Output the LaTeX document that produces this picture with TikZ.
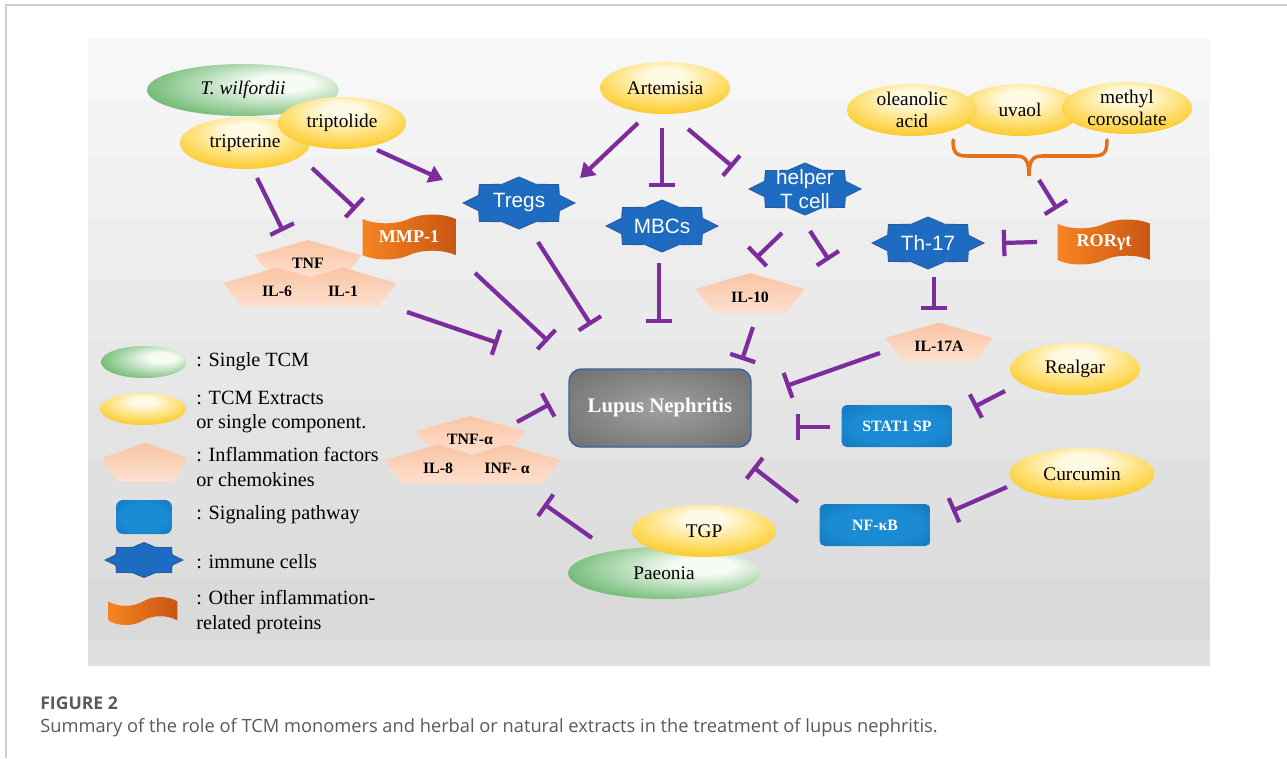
\documentclass[tikz,border=0pt]{standalone}
\usepackage{fontspec}
\setmainfont{Liberation Serif}
\setsansfont{Liberation Sans}
\newfontfamily\capfont{Open Sans}
\usetikzlibrary{shapes.geometric, shapes.symbols, arrows.meta}

\definecolor{inhib}{RGB}{124,44,156}
\definecolor{goldout}{RGB}{247,188,0}
\definecolor{goldmid}{RGB}{255,222,110}
\definecolor{goldin}{RGB}{255,250,228}
\definecolor{greenout}{RGB}{58,160,64}
\definecolor{greenin}{RGB}{246,251,244}
\definecolor{cellblue}{RGB}{30,108,194}
\definecolor{cellline}{RGB}{40,90,160}
\definecolor{sigin}{RGB}{27,140,212}
\definecolor{sigout}{RGB}{12,98,165}
\definecolor{peachtop}{RGB}{249,196,164}
\definecolor{peachbot}{RGB}{253,224,206}
\definecolor{tapeleft}{RGB}{246,132,34}
\definecolor{taperight}{RGB}{200,86,18}
\definecolor{lnin}{RGB}{160,160,160}
\definecolor{lnout}{RGB}{98,98,98}
\definecolor{lnline}{RGB}{60,96,160}
\definecolor{bracecol}{RGB}{232,112,26}
\definecolor{capgray}{RGB}{90,90,90}
\definecolor{framegray}{RGB}{205,205,205}

\pgfdeclareradialshading{goldglow}{\pgfpoint{0bp}{14bp}}{color(0bp)=(goldin); color(7bp)=(goldin); color(22bp)=(goldmid); color(38bp)=(goldout); color(60bp)=(goldout)}
\pgfdeclareradialshading{greenglow}{\pgfpoint{12bp}{8bp}}{color(0bp)=(greenin); color(8bp)=(greenin); color(42bp)=(greenout); color(60bp)=(greenout)}
\pgfdeclareradialshading{sigglow}{\pgfpoint{0bp}{0bp}}{color(0bp)=(sigin); color(20bp)=(sigin); color(50bp)=(sigout)}
\pgfdeclareradialshading{lnglow}{\pgfpoint{0bp}{0bp}}{color(0bp)=(lnin); color(45bp)=(lnout); color(60bp)=(lnout)}

% shapes drawn behind the labels: centre, half width, half height (px)
\newcommand{\immunestar}[3]{%
  \fill[cellblue, draw=cellline, line width=0.5pt, shift={#1}]
    (#2,0) \foreach \a in {1,...,15}{ -- ({#2*(1-0.22*mod(\a,2))*cos(\a*22.5)}, {#3*(1-0.22*mod(\a,2))*sin(\a*22.5)}) } -- cycle;}
\newcommand{\factorshape}[3]{%
  \shade[top color=peachtop, bottom color=peachbot, shift={#1}]
    (0,-#3) -- (#2,{-0.2*#3}) -- ({0.66*#2},#3) -- ({-0.66*#2},#3) -- (-#2,{-0.2*#3}) -- cycle;}

\tikzset{
  gold/.style={ellipse, minimum width=#1, minimum height=1.04cm, inner sep=0pt,
    shade, shading=goldglow, align=center, font=\fontsize{11}{12.5}\selectfont},
  gold/.default=2.6cm,
  herb/.style={ellipse, minimum width=#1, minimum height=1.04cm, inner sep=0pt,
    shade, shading=greenglow, align=center, font=\fontsize{11}{12.5}\selectfont},
  herb/.default=3.84cm,
  cell/.style={inner sep=0pt, text=white, align=center,
    font=\sffamily\fontsize{11.8}{14}\selectfont},
  factor/.style={inner sep=0pt, font=\bfseries\fontsize{9}{10}\selectfont},
  sig/.style={rounded corners=3pt, minimum width=2.22cm, minimum height=0.84cm,
    shade, shading=sigglow, text=white, font=\bfseries\fontsize{9}{10}\selectfont},
  prot/.style={tape, minimum width=1.86cm, minimum height=0.9cm, inner sep=0pt,
    left color=tapeleft, right color=taperight, text=white,
    font=\bfseries\fontsize{10.3}{12}\selectfont},
  lupusbox/.style={rounded corners=7pt, minimum width=3.64cm, minimum height=1.56cm,
    shade, shading=lnglow, draw=lnline, line width=0.8pt, text=white,
    font=\bfseries\fontsize{11.8}{13}\selectfont},
  legend/.style={anchor=west, align=left, inner sep=0pt,
    font=\fontsize{11.5}{14.2}\selectfont},
  inhibit/.style={draw=inhib, line width=2.4pt, -{Bar[width=15pt]}},
  activate/.style={draw=inhib, line width=2.4pt, -{Triangle[length=8pt, width=10pt]}},
}

\begin{document}
\begin{tikzpicture}[x=0.02cm, y=-0.02cm]
  \useasboundingbox (0,0) rectangle (1287,758);
  \fill[white] (0,0) rectangle (1287,758);
  \draw[framegray, line width=1pt] (6,758) -- (6,5) -- (1287,5);

  % panel
  \foreach \i [evaluate=\i as \tone using 3+1.3*\i] in {0,...,9}
    \fill[black!\tone] (88,{38+\i*60.2}) rectangle (1210,{38+(\i+1)*60.2});
  \fill[black!12] (88,640) rectangle (1210,666);

  % herbs and extracts
  \node[herb] (wilfordii) at (243,90) {\textit{T. wilfordii}};
  \node[gold=2.6cm] (tripterine) at (245,143) {tripterine};
  \node[gold=2.56cm] (triptolide) at (342,123) {triptolide};
  \node[gold] (artemisia) at (665,88) {Artemisia};
  \node[gold=2.44cm] (uvaol) at (1020,110) {uvaol};
  \node[gold] (oleanolic) at (912,110) {oleanolic\\acid};
  \node[gold] (methyl) at (1127,108) {methyl\\corosolate};
  \node[gold] (realgar) at (1075,369) {Realgar};
  \node[gold=2.9cm] (curcumin) at (1082,474) {Curcumin};
  \node[herb] (paeonia) at (664,573) {Paeonia};
  \node[gold=2.88cm] (tgp) at (704,531) {TGP};

  % immune cells
  \immunestar{(519,203)}{56}{26}
  \immunestar{(662,226)}{56}{26}
  \immunestar{(805,189)}{56}{26}
  \immunestar{(928,243)}{56}{26}
  \node[cell] (tregs) at (519,203) {Tregs};
  \node[cell] (mbcs) at (662,226) {MBCs};
  \node[cell] (helper) at (805,189) {helper\\T cell};
  \node[cell] (th17) at (928,243) {Th-17};

  % proteins
  \node[prot] (mmp) at (409,237) {MMP-1};
  \node[prot] (ror) at (1104,242) {RORγt};

  % inflammation factors
  \factorshape{(308,259)}{53.5}{19}
  \factorshape{(277,287)}{53.5}{19.5}
  \factorshape{(343,287)}{53.5}{19.5}
  \factorshape{(750,293)}{54.5}{20}
  \factorshape{(939,342)}{54}{19.5}
  \factorshape{(470,435)}{55}{19}
  \factorshape{(438,464)}{53.5}{19.5}
  \factorshape{(507,464)}{53.5}{19.5}
  \node[factor] (tnf) at (308,263) {TNF};
  \node[factor] (il6) at (277,291) {IL-6};
  \node[factor] (il1) at (343,291) {IL-1};
  \node[factor] (il10) at (750,297) {IL-10};
  \node[factor] (il17a) at (939,346) {IL-17A};
  \node[factor] (tnfa) at (470,439) {TNF-α};
  \node[factor] (il8) at (438,468) {IL-8};
  \node[factor] (infa) at (507,468) {INF- α};

  % pathways and disease
  \node[sig] (stat1) at (897,426) {STAT1 SP};
  \node[sig] (nfkb) at (875,525) {NF-κB};
  \node[lupusbox] (lupus) at (660,408) {Lupus Nephritis};

  % brace over the three triterpenes
  \coordinate (brace) at (1029,176);
  \draw[bracecol, line width=2pt, line cap=round] (953,140) .. controls (953,153) and (956,156) .. (968,156) -- (1016,156) .. controls (1025,156) and (1029,160) .. (brace) .. controls (1029,160) and (1033,156) .. (1042,156) -- (1092,156) .. controls (1104,156) and (1107,153) .. (1107,140);

  % connectors
  \draw[activate] ([shift={(35,27)}]triptolide.center) -- ([shift={(-76,-23)}]tregs.center);
  \draw[inhibit] ([shift={(12,35)}]tripterine.center) -- ([shift={(-25,-32)}]tnf.center);
  \draw[inhibit] ([shift={(67,25)}]tripterine.center) -- ([shift={(-53,-28)}]mmp.center);
  \draw[activate] ([shift={(-27,35)}]artemisia.center) -- ([shift={(61,-25)}]tregs.center);
  \draw[inhibit] ([shift={(-3,40)}]artemisia.center) -- ([shift={(0,-39)}]mbcs.center);
  \draw[inhibit] ([shift={(23,41)}]artemisia.center) -- ([shift={(-72,-22)}]helper.center);
  \draw[inhibit] ([shift={(-23,44)}]helper.center) -- ([shift={(6,-39)}]il10.center);
  \draw[inhibit] ([shift={(5,42)}]helper.center) -- ([shift={(-99,17)}]th17.center);
  \draw[inhibit] ([shift={(6,34)}]th17.center) -- ([shift={(-5,-36)}]il17a.center);
  \draw[inhibit] ([shift={(-67,0)}]ror.center) -- ([shift={(74,0)}]th17.center);
  \draw[inhibit] ([shift={(10,4)}]brace) -- ([shift={(-47,-33)}]ror.center);
  \draw[inhibit] ([shift={(64,21)}]il1.center) -- ([shift={(-162,-65)}]lupus.center);
  \draw[inhibit] ([shift={(66,36)}]mmp.center) -- ([shift={(-112,-67)}]lupus.center);
  \draw[inhibit] ([shift={(19,39)}]tregs.center) -- ([shift={(-69,-83)}]lupus.center);
  \draw[inhibit] ([shift={(-3,37)}]mbcs.center) -- ([shift={(-1,-85)}]lupus.center);
  \draw[inhibit] ([shift={(3,30)}]il10.center) -- ([shift={(82,-48)}]lupus.center);
  \draw[inhibit] ([shift={(-59,7)}]il17a.center) -- ([shift={(126,-22)}]lupus.center);
  \draw[inhibit] ([shift={(-67,1)}]stat1.center) -- ([shift={(136,19)}]lupus.center);
  \draw[inhibit] ([shift={(-70,22)}]realgar.center) -- ([shift={(77,-19)}]stat1.center);
  \draw[inhibit] ([shift={(-77,-23)}]nfkb.center) -- ([shift={(93,59)}]lupus.center);
  \draw[inhibit] ([shift={(-75,13)}]curcumin.center) -- ([shift={(77,-14)}]nfkb.center);
  \draw[inhibit] ([shift={(47,-17)}]tnfa.center) -- ([shift={(-110,-4)}]lupus.center);
  \draw[inhibit] ([shift={(-72,-35)}]paeonia.center) -- ([shift={(37,36)}]infa.center);

  % legend
  \node[herb=1.72cm, minimum height=0.64cm] (keyherb) at (144,362) {};
  \node[gold=1.72cm, minimum height=0.64cm] (keygold) at (143,409) {};
  \factorshape{(145,462)}{42.5}{19.5}
  \node[sig, minimum width=1.12cm, minimum height=0.68cm, rounded corners=4pt] (keysig) at (144,517) {};
  \immunestar{(144,560)}{39}{17.5}
  \node[prot, minimum width=1.38cm, minimum height=0.56cm] (keyprot) at (143,611) {};
  \node[legend] (txtherb) at (196,362) {: Single TCM};
  \node[legend] (txtgold) at (196,412) {: TCM Extracts\\or single component.};
  \node[legend] (txtfactor) at (196,467) {: Inflammation factors\\or chemokines};
  \node[legend] (txtsig) at (196,515) {: Signaling pathway};
  \node[legend] (txtcell) at (196,562) {: immune cells};
  \node[legend] (txtprot) at (196,612) {: Other inflammation-\\related proteins};

  % caption
  \node[anchor=base west, inner sep=0pt, text=capgray, font=\capfont\bfseries\fontsize{10}{12}\selectfont] (figlabel) at (40,709) {FIGURE 2};
  \node[anchor=base west, inner sep=0pt, text=capgray, font=\capfont\fontsize{10.4}{12}\selectfont] (caption) at (40,732) {Summary of the role of TCM monomers and herbal or natural extracts in the treatment of lupus nephritis.};
\end{tikzpicture}
\end{document}
